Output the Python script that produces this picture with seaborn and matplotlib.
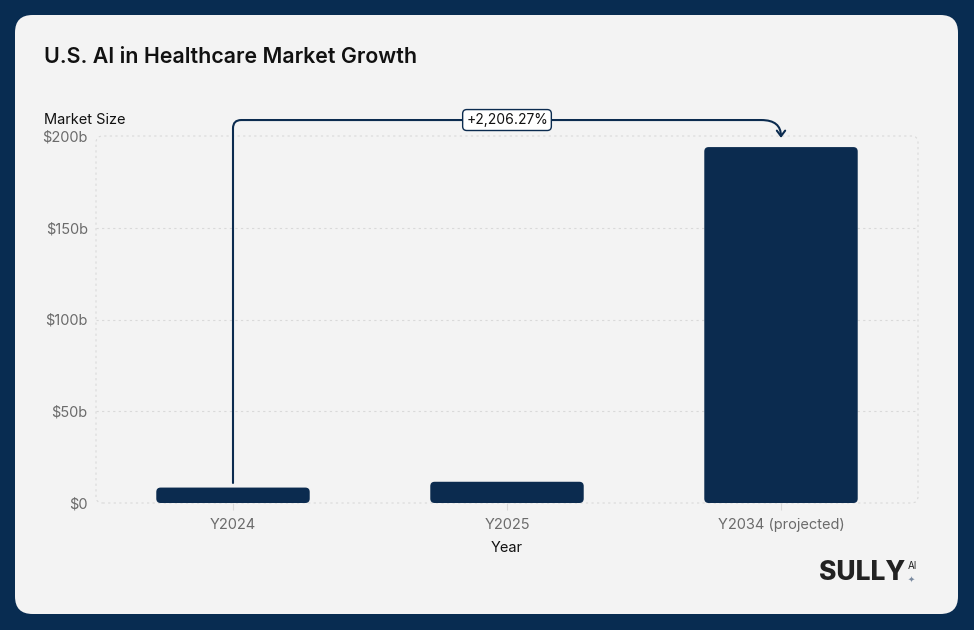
import numpy as np
import pandas as pd
import matplotlib
matplotlib.use("Agg")
import matplotlib.pyplot as plt
import seaborn as sns
from matplotlib.patches import FancyBboxPatch, FancyArrowPatch
from matplotlib.path import Path

# 数据
years = ["Y2024", "Y2025", "Y2034 (projected)"]
market_size = [8.41, 11.57, 193.96]
y_ticks = [0, 50, 100, 150, 200]
y_tick_labels = ["$0", "$50b", "$100b", "$150b", "$200b"]
growth_label = "+2,206.27%"

NAVY = "#0b2b4f"
FRAME = "#082c51"
PANEL = "#f3f3f3"
GRID = "#d9d9d9"
GREY_TXT = "#6b6b6b"

sns.set_theme(style="white")
plt.rcParams['font.family'] = ['Inter', 'DejaVu Sans']

df = pd.DataFrame({"Year": years, "Market Size": market_size})

fig = plt.figure(figsize=(9.74, 6.30), dpi=100)
fig.patch.set_facecolor(FRAME)

# 内部浅色面板
panel = FancyBboxPatch((15 / 974, 16 / 630), 943 / 974, 599 / 630,
                       boxstyle="round,pad=0,rounding_size=0.018",
                       transform=fig.transFigure, facecolor=PANEL,
                       edgecolor="none", mutation_aspect=974 / 630, zorder=-10)
fig.patches.append(panel)

ax = fig.add_axes([96 / 974, 127 / 630, 822 / 974, 367 / 630])
ax.set_facecolor("none")

sns.barplot(data=df, x="Year", y="Market Size", color=NAVY, width=0.56,
            saturation=1, ax=ax, zorder=3)

# 圆角柱子
for p in list(ax.patches):
    x0, y0 = p.get_x(), p.get_y()
    w, h = p.get_width(), p.get_height()
    rb = FancyBboxPatch((x0, y0), w, h,
                        boxstyle="round,pad=0,rounding_size=0.016",
                        mutation_aspect=150, facecolor=NAVY,
                        edgecolor="none", zorder=3)
    p.remove()
    ax.add_patch(rb)

ax.set_xlim(-0.5, 2.5)
ax.set_ylim(0, 200)

for s in ax.spines.values():
    s.set_visible(False)

# 网格线和虚线边框
for yv in y_ticks[1:-1]:
    ax.axhline(yv, color=GRID, lw=0.8, ls=(0, (2, 3)), zorder=1)
border = FancyBboxPatch((0, 0), 1, 1, boxstyle="round,pad=0,rounding_size=0.008",
                        transform=ax.transAxes, facecolor="none", edgecolor=GRID,
                        lw=0.8, ls=(0, (2, 3)), mutation_aspect=822 / 367,
                        zorder=1, clip_on=False)
ax.add_patch(border)

ax.set_yticks(y_ticks)
ax.set_yticklabels(y_tick_labels)
ax.tick_params(axis="y", length=0, pad=6, labelsize=10.5, labelcolor=GREY_TXT)
ax.tick_params(axis="x", length=5, width=0.8, color=GRID, direction="out",
               pad=6, labelsize=10.5, labelcolor=GREY_TXT, bottom=True)
ax.set_xlabel("Year", fontsize=10.5, color="#111111", labelpad=6)
ax.set_ylabel("")

# 增长箭头
y_start = market_size[0] + 2.5
y_top = 208.7
y_tip = market_size[2] + 5
r_x, r_y = 0.03, 4.5
verts = [
    (0, y_start), (0, y_top - r_y),
    (0, y_top), (r_x, y_top),
    (2 - 2.4 * r_x, y_top),
    (2, y_top), (2, y_tip),
]
codes = [Path.MOVETO, Path.LINETO, Path.CURVE3, Path.CURVE3,
         Path.LINETO, Path.CURVE3, Path.CURVE3]
arrow = FancyArrowPatch(path=Path(verts, codes), arrowstyle="->,head_length=4,head_width=3",
                        color=NAVY, lw=1.5, transform=ax.transData,
                        clip_on=False, zorder=5)
ax.add_patch(arrow)
ax.text(1, y_top, growth_label, ha="center", va="center", fontsize=10,
        color="#111111", zorder=6,
        bbox=dict(boxstyle="round,pad=0.25,rounding_size=0.3", facecolor="white",
                  edgecolor=NAVY, lw=1))

# 标题和标签
fig.text(44 / 974, 1 - 57 / 630, "U.S. AI in Healthcare Market Growth",
         fontsize=15.4, fontweight="semibold", color="#111111", va="center")
fig.text(44 / 974, 1 - 120 / 630, "Market Size", fontsize=10.5,
         color="#111111", va="center")

# Logo
fig.text(905 / 974, 1 - 573 / 630, "SULLY", fontsize=19, fontweight="heavy",
         color="#222222", ha="right", va="center")
fig.text(908 / 974, 1 - 566 / 630, "AI", fontsize=7, color="#222222",
         ha="left", va="center")
fig.text(911 / 974, 1 - 579 / 630, "\u2726", fontsize=6, color="#7a8aa0",
         ha="center", va="center", family=["DejaVu Sans"])

fig.savefig("out.png", dpi=100, facecolor=fig.get_facecolor())
